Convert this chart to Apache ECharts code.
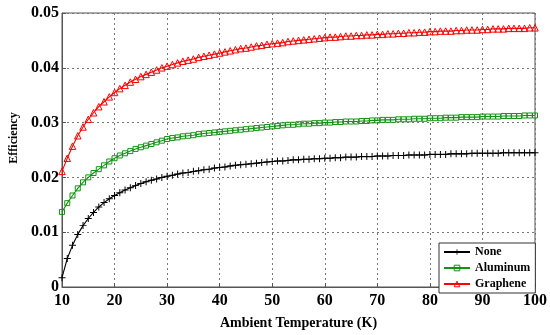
<!DOCTYPE html>
<html>
<head>
<meta charset="utf-8">
<script src="https://cdn.jsdelivr.net/npm/echarts@6/dist/echarts.min.js"></script>
<style>html,body{margin:0;padding:0;background:#fff}#c{width:550px;height:335px}</style>
</head>
<body>
<div id="c"></div>
<script>
// Ambient temperature (K) 10..100, one sample per kelvin
var temperatures = [10,11,12,13,14,15,16,17,18,19,20,21,22,23,24,25,26,27,28,29,30,31,32,33,34,35,36,37,38,39,40,41,42,43,44,45,46,47,48,49,50,51,52,53,54,55,56,57,58,59,60,61,62,63,64,65,66,67,68,69,70,71,72,73,74,75,76,77,78,79,80,81,82,83,84,85,86,87,88,89,90,91,92,93,94,95,96,97,98,99,100];

var noneEff = [0.0017,0.0052,0.0076,0.0096,0.0112,0.0125,0.0136,0.0146,0.0154,0.0161,0.0167,
  0.0172,0.0177,0.0181,0.0185,0.0189,0.0192,0.0195,0.0197,0.0200,0.0202,
  0.0204,0.0206,0.0208,0.0209,0.0211,0.0212,0.0214,0.0215,0.0217,0.0218,
  0.0219,0.0221,0.0222,0.0223,0.0224,0.0225,0.0226,0.0227,0.0228,0.0229,
  0.0230,0.0230,0.0231,0.0232,0.0232,0.0233,0.0233,0.0234,0.0234,0.0235,
  0.0235,0.0236,0.0236,0.0237,0.0237,0.0237,0.0238,0.0238,0.0238,0.0239,
  0.0239,0.0239,0.0240,0.0240,0.0240,0.0241,0.0241,0.0241,0.0241,0.0242,
  0.0242,0.0242,0.0242,0.0243,0.0243,0.0243,0.0243,0.0244,0.0244,0.0244,
  0.0244,0.0244,0.0244,0.0245,0.0245,0.0245,0.0245,0.0245,0.0245,0.0245];

var aluminumEff = [0.0137,0.0153,0.0167,0.0180,0.0191,0.0200,0.0208,0.0215,0.0222,0.0229,0.0235,
  0.0240,0.0244,0.0248,0.0252,0.0255,0.0258,0.0261,0.0264,0.0267,0.0270,
  0.0272,0.0273,0.0275,0.0276,0.0277,0.0279,0.0280,0.0281,0.0282,0.0283,
  0.0284,0.0285,0.0286,0.0287,0.0288,0.0289,0.0290,0.0291,0.0292,0.0293,
  0.0294,0.0295,0.0296,0.0296,0.0297,0.0298,0.0298,0.0299,0.0299,0.0300,
  0.0300,0.0301,0.0301,0.0302,0.0302,0.0302,0.0303,0.0303,0.0304,0.0304,
  0.0305,0.0305,0.0305,0.0306,0.0306,0.0306,0.0307,0.0307,0.0307,0.0308,
  0.0308,0.0308,0.0309,0.0309,0.0309,0.0310,0.0310,0.0310,0.0310,0.0311,
  0.0311,0.0311,0.0311,0.0312,0.0312,0.0312,0.0312,0.0313,0.0313,0.0313];

var grapheneEff = [0.0211,0.0235,0.0257,0.0276,0.0292,0.0306,0.0318,0.0329,0.0338,0.0347,0.0355,
  0.0362,0.0368,0.0374,0.0379,0.0384,0.0388,0.0392,0.0396,0.0400,0.0403,
  0.0406,0.0409,0.0412,0.0414,0.0416,0.0419,0.0421,0.0423,0.0425,0.0427,
  0.0429,0.0431,0.0433,0.0435,0.0436,0.0438,0.0440,0.0441,0.0443,0.0444,
  0.0445,0.0446,0.0448,0.0449,0.0450,0.0451,0.0452,0.0453,0.0454,0.0455,
  0.0456,0.0456,0.0457,0.0458,0.0458,0.0459,0.0459,0.0460,0.0460,0.0461,
  0.0461,0.0462,0.0462,0.0463,0.0463,0.0464,0.0464,0.0465,0.0465,0.0466,
  0.0466,0.0467,0.0467,0.0467,0.0468,0.0468,0.0469,0.0469,0.0469,0.0470,
  0.0470,0.0471,0.0471,0.0471,0.0472,0.0472,0.0472,0.0472,0.0473,0.0473];

var seriesNames = ['None', 'Aluminum', 'Graphene'];
var xTicks = [10,20,30,40,50,60,70,80,90,100];
var yTicks = [0,0.01,0.02,0.03,0.04,0.05];

function pairs(vals) { return temperatures.map(function (t, i) { return [t, vals[i]]; }); }

var FONT = 'Liberation Serif';
var PLUS = 'path://M4.3,0h1.4v4.3h4.3v1.4h-4.3v4.3h-1.4v-4.3h-4.3v-1.4h4.3z';
var GREEN = '#139313';
var HOLLOW = 'rgba(255,255,255,0)';

var chart = echarts.init(document.getElementById('c'), null, { renderer: 'canvas' });
chart.setOption({
  animation: false,
  backgroundColor: '#fff',
  grid: { left: 54, right: 15, top: 13, bottom: 38, show: true, borderColor: '#555', borderWidth: 1, backgroundColor: 'transparent' },
  legend: {
    data: [
      { name: seriesNames[0] },
      { name: seriesNames[1], itemStyle: { color: HOLLOW, borderColor: GREEN, borderWidth: 1 } },
      { name: seriesNames[2], itemStyle: { color: HOLLOW, borderColor: '#ff0000', borderWidth: 1 } }
    ],
    orient: 'vertical',
    left: 439, top: 243,
    itemWidth: 26, itemHeight: 7, itemGap: 4,
    padding: [3, 5, 3, 4],
    backgroundColor: '#fff',
    borderColor: '#333', borderWidth: 1,
    textStyle: { fontFamily: FONT, fontWeight: 'bold', fontSize: 12, color: '#000' }
  },
  xAxis: {
    type: 'value', min: xTicks[0], max: xTicks[xTicks.length - 1], interval: 10,
    name: 'Ambient Temperature (K)', nameLocation: 'middle', nameGap: 29,
    nameTextStyle: { fontFamily: FONT, fontWeight: 'bold', fontSize: 14, color: '#000' },
    axisLine: { show: true, lineStyle: { color: '#555', width: 1 } },
    axisTick: { show: true, inside: true, length: 4, lineStyle: { color: '#555' } },
    axisLabel: { fontFamily: FONT, fontWeight: 'bold', fontSize: 16, color: '#000', margin: 6 },
    splitLine: { show: true, lineStyle: { type: [2, 3], color: '#777', width: 1 } }
  },
  yAxis: {
    type: 'value', min: yTicks[0], max: yTicks[yTicks.length - 1], interval: 0.01,
    name: 'Efficiency', nameLocation: 'middle', nameGap: 42,
    nameTextStyle: { fontFamily: FONT, fontWeight: 'bold', fontSize: 12, color: '#000', padding: [0, 0, 0, 24] },
    axisLine: { show: true, lineStyle: { color: '#555', width: 1 } },
    axisTick: { show: true, inside: true, length: 4, lineStyle: { color: '#555' } },
    axisLabel: {
      fontFamily: FONT, fontWeight: 'bold', fontSize: 16, color: '#000', margin: 3,
      formatter: function (v) { return v === 0 ? '0' : v.toFixed(2); }
    },
    splitLine: { show: true, lineStyle: { type: [2, 3], color: '#777', width: 1 } }
  },
  series: [
    {
      name: seriesNames[0], type: 'line', data: pairs(noneEff),
      showAllSymbol: true, symbol: PLUS, symbolSize: 7,
      lineStyle: { color: '#000', width: 1.1 },
      itemStyle: { color: '#000' }
    },
    {
      name: seriesNames[1], type: 'line', data: pairs(aluminumEff),
      showAllSymbol: true, symbol: 'rect', symbolSize: 5,
      lineStyle: { color: GREEN, width: 1.1 },
      itemStyle: { color: HOLLOW, borderColor: GREEN, borderWidth: 1 }
    },
    {
      name: seriesNames[2], type: 'line', data: pairs(grapheneEff),
      showAllSymbol: true, symbol: 'triangle', symbolSize: 6.5,
      lineStyle: { color: '#ff0000', width: 1.1 },
      itemStyle: { color: HOLLOW, borderColor: '#ff0000', borderWidth: 1 }
    }
  ]
});
</script>
</body>
</html>
